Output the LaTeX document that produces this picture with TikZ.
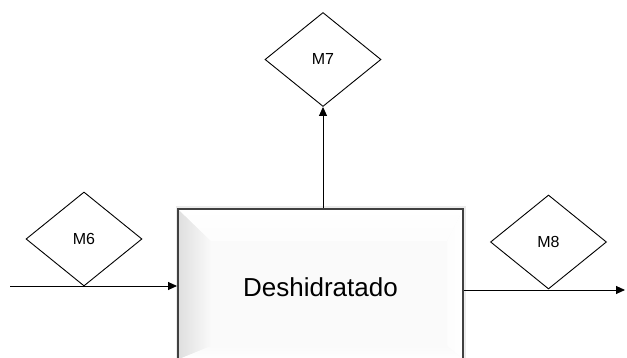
\documentclass[tikz,border=0pt]{standalone}
\usepackage{fontspec}
\setmainfont{Liberation Sans}
\usetikzlibrary{shapes.geometric,arrows.meta,calc,backgrounds}
\begin{document}
\begin{tikzpicture}[x=1pt,y=1pt,
  dia/.style={diamond, draw=black, line width=0.9pt, inner sep=0pt,
    minimum width=116pt, minimum height=94pt, font=\fontsize{16}{18}\selectfont},
  proc/.style={rectangle, draw=black!75, line width=2pt, inner sep=0pt,
    minimum width=285pt, minimum height=150pt},
  bigtext/.style={font=\fontsize{26}{30}\selectfont, inner sep=0pt},
  flow/.style={line width=0.9pt, -{Triangle[length=9pt,width=8pt]}}]
\useasboundingbox (0,0) rectangle (627,358);
% process box
\node[proc] (box) at (320.5,74) {};
\begin{scope}[on background layer]
  \fill[black!8] ($(box.north west)+(-1.5,1.5)$) rectangle ($(box.south east)+(1.5,-1.5)$);
  \fill[black!2] (box.north west) rectangle (box.south east);
  % left bevel
  \shade[left color=black!13, right color=black!2]
    (box.north west) -- ($(box.north west)+(34,-33)$) -- ($(box.south west)+(34,14)$) -- (box.south west) -- cycle;
  % top bevel
  \shade[top color=white, bottom color=black!1]
    (box.north west) -- (box.north east) -- ($(box.north east)+(-17,-33)$) -- ($(box.north west)+(34,-33)$) -- cycle;
  % right bevel
  \shade[left color=black!1, right color=white]
    (box.north east) -- ($(box.north east)+(-17,-33)$) -- ($(box.south east)+(-17,14)$) -- (box.south east) -- cycle;
  % bottom bevel
  \shade[top color=black!2, bottom color=white]
    (box.south west) -- ($(box.south west)+(34,14)$) -- ($(box.south east)+(-17,14)$) -- (box.south east) -- cycle;
\end{scope}
\node[bigtext] (lbl) at ([yshift=-3pt]box.center) {Deshidratado};
% diamonds
\node[dia] (m7) at (323,298.5) {M7};
\node[dia] (m6) at (84,119) {M6};
\node[dia] (m8) at (548.5,116) {M8};
% connectors
\coordinate (inp) at (10,72);
\coordinate (outp) at (625,68);
\draw[flow] (inp) -- (inp -| box.west);
\draw[flow] (box.east |- outp) -- (outp);
\draw[flow] (box.north -| m7.south) -- (m7.south);
\end{tikzpicture}
\end{document}
